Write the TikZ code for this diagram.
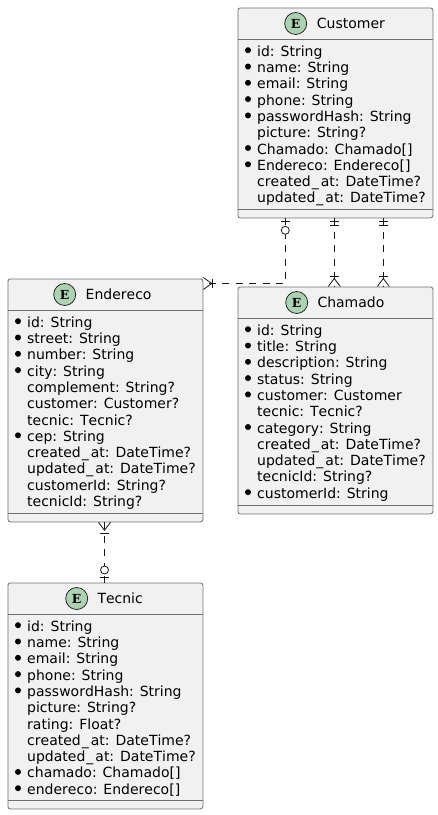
\documentclass[tikz,border=0pt]{standalone}
\usepackage{fontspec}
\setmainfont{DejaVu Sans}[Kerning=Off]
\newfontfamily\badgefont{DejaVu Serif}
\usetikzlibrary{calc}
\definecolor{entfill}{HTML}{F1F1F1}
\definecolor{entline}{HTML}{181818}
\definecolor{sepline}{HTML}{707070}
\definecolor{badge}{HTML}{ADD1B2}
\tikzset{
  x=1pt,y=-1pt,
  entbox/.style={draw=sepline,line width=0.8pt,fill=entfill,rounded corners=2.5pt,minimum width=195pt,inner sep=0pt,anchor=north west},
  entsep/.style={draw=sepline,line width=0.8pt},
  badgec/.style={circle,draw=entline,line width=0.7pt,fill=badge,minimum size=22pt,inner sep=0pt,font=\badgefont\bfseries\fontsize{12.5}{14}\selectfont,text=black},
  enttitle/.style={anchor=base west,inner sep=0pt,font=\fontsize{14}{16}\selectfont,text=black},
  attr/.style={anchor=base west,inner sep=0pt,font=\fontsize{14}{16}\selectfont,text=black},
  rel/.style={draw=entline,line width=0.9pt,dash pattern=on 7pt off 6.5pt},
  relmark/.style={draw=entline,line width=0.8pt},
}
\newcommand{\usc}{\kern1pt\_\kern2pt }
% name, title, left, top, height, badge x, title x, attributes
\newcommand{\entitybox}[8]{%
  \node[entbox,minimum height=#5pt] (#1) at (#3,#4) {};
  \draw[entsep] ($(#1.north west)+(0,32)$) -- ($(#1.north east)+(0,32)$);
  \draw[entsep] ($(#1.south west)+(0,-8.5)$) -- ($(#1.south east)+(0,-8.5)$);
  \node[badgec] (#1-badge) at (#6,#4+16) {E};
  \node[enttitle] (#1-title) at (#7,#4+20.7) {#2};
  \foreach \bul/\txt [count=\i from 0] in {#8}{
    \node[attr] (#1-\i) at (#3+19.5,#4+48.7+16.3*\i) {\txt};
    \ifnum\bul=1 \fill[black] (#3+10.5,#4+42.7+16.3*\i) circle (3);\fi
  }%
}
\newcommand{\onebar}[1]{\draw[relmark] ($(#1)+(-4.5,0)$) -- ($(#1)+(4.5,0)$);}
\begin{document}
\begin{tikzpicture}
\useasboundingbox (0,0) rectangle (438,815);
\entitybox{customer}{Customer}{237.5}{7.5}{210}{295.7}{316.7}{1/id: String,1/name: String,1/email: String,1/phone: String,1/passwordHash: String,0/picture: String?,1/Chamado: Chamado[],1/Endereco: Endereco[],0/created\usc at: DateTime?,0/updated\usc at: DateTime?}
\entitybox{endereco}{Endereco}{7.5}{278.5}{243}{64.7}{85.5}{1/id: String,1/street: String,1/number: String,1/city: String,0/complement: String?,0/customer: Customer?,0/tecnic: Tecnic?,1/cep: String,0/created\usc at: DateTime?,0/updated\usc at: DateTime?,0/customerId: String?,0/tecnicId: String?}
\entitybox{chamado}{Chamado}{237.5}{286.5}{227}{296.7}{317.3}{1/id: String,1/title: String,1/description: String,1/status: String,1/customer: Customer,0/tecnic: Tecnic?,1/category: String,0/created\usc at: DateTime?,0/updated\usc at: DateTime?,0/tecnicId: String?,1/customerId: String}
\entitybox{tecnic}{Tecnic}{7.5}{582.5}{226}{76.7}{97.3}{1/id: String,1/name: String,1/email: String,1/phone: String,1/passwordHash: String,0/picture: String?,0/rating: Float?,0/created\usc at: DateTime?,0/updated\usc at: DateTime?,1/chamado: Chamado[],1/endereco: Endereco[]}
% customer -- endereco
\coordinate (ce1) at ($(customer.south west)+(47.8,0)$);
\coordinate (ce2) at ($(endereco.north east)+(0,5)$);
\draw[rel] (ce1) |- (ce2);
\onebar{$(ce1)+(0,3.5)$}
\draw[relmark,fill=white] ($(ce1)+(0,12)$) circle (4);
\draw[relmark] ($(ce2)+(0,-6)$) -- ($(ce2)+(8.5,0)$) -- ($(ce2)+(0,6)$);
\draw[relmark] ($(ce2)+(9.5,-4.5)$) -- ($(ce2)+(9.5,4.5)$);
% customer -- chamado (two)
\foreach \off [count=\k] in {96.8,145.8}{
  \coordinate (cc\k) at ($(customer.south west)+(\off,0)$);
  \coordinate (dd\k) at ($(chamado.north west)+(\off,0)$);
  \draw[rel] (cc\k) -- (dd\k);
  \onebar{$(cc\k)+(0,3.5)$}
  \onebar{$(cc\k)+(0,7.5)$}
  \onebar{$(dd\k)+(0,-10.5)$}
  \draw[relmark] ($(dd\k)+(-6,0)$) -- ($(dd\k)+(0,-8)$) -- ($(dd\k)+(6,0)$);
}
% endereco -- tecnic
\coordinate (et1) at ($(endereco.south west)+(97,0)$);
\coordinate (et2) at ($(tecnic.north west)+(97,0)$);
\draw[rel] (et1) -- (et2);
\draw[relmark] ($(et1)+(-6,0)$) -- ($(et1)+(0,8)$) -- ($(et1)+(6,0)$);
\onebar{$(et1)+(0,11)$}
\onebar{$(et2)+(0,-5.5)$}
\draw[relmark,fill=white] ($(et2)+(0,-12.5)$) circle (4);
\end{tikzpicture}
\end{document}
